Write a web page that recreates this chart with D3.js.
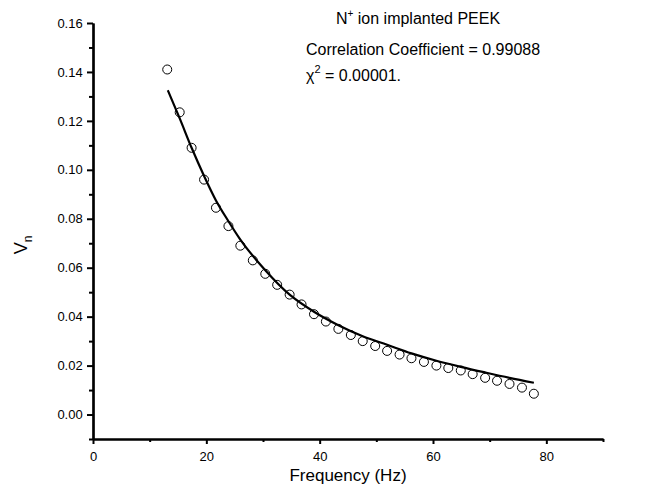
<!DOCTYPE html>
<html>
<head>
<meta charset="utf-8">
<script src="https://cdn.jsdelivr.net/npm/d3@7"></script>
<style>
  body { margin: 0; background: #fff; }
  text { font-family: "Liberation Sans", Arial, sans-serif; fill: #000; }
</style>
</head>
<body>
<div class="container"></div>
<script>
const w = 647
const h = 495

// measured points
const freq = [13.1,15.3,17.4,19.6,21.7,23.9,26.0,28.2,30.4,32.5,34.7,36.8,39.0,41.1,43.3,45.5,47.6,49.8,51.9,54.1,56.2,58.4,60.6,62.7,64.9,67.0,69.2,71.3,73.5,75.7,77.8]
const vn = [0.141,0.1235,0.109,0.096,0.0845,0.077,0.069,0.063,0.0575,0.053,0.049,0.045,0.041,0.038,0.035,0.0325,0.030,0.028,0.026,0.0245,0.023,0.0215,0.020,0.019,0.018,0.0165,0.015,0.0138,0.0125,0.011,0.0085]

// fitted curve
const fitFreq = [13.2,15.3,17.4,19.6,21.7,23.9,26.0,30.4,34.7,39.0,43.3,47.6,51.9,56.2,60.6,64.9,69.2,73.5,77.8]
const fitVn = [0.1325,0.121,0.109,0.0975,0.0875,0.079,0.0715,0.059,0.049,0.042,0.0365,0.032,0.0285,0.025,0.022,0.0195,0.0172,0.015,0.013]

const xTicks = [0,20,40,60,80]
const xMinor = [10,30,50,70,90]
const yTicks = [0,0.02,0.04,0.06,0.08,0.10,0.12,0.14,0.16]
const yMinor = [-0.01,0.01,0.03,0.05,0.07,0.09,0.11,0.13,0.15]

const svg = d3.select(".container")
              .append("svg")
              .attr("width", w)
              .attr("height", h)

const xScale = d3.scaleLinear().domain([0, 90]).range([93, 603])
const yScale = d3.scaleLinear().domain([-0.01, 0.16]).range([439, 23])

const xAxis = d3.axisBottom(xScale).tickValues(xTicks).tickFormat(d3.format("d")).tickSize(5).tickSizeOuter(0)
const xAxisMinor = d3.axisBottom(xScale).tickValues(xMinor).tickFormat("").tickSize(3).tickSizeOuter(0)
const yAxis = d3.axisLeft(yScale).tickValues(yTicks).tickFormat(d3.format(".2f")).tickSize(6).tickSizeOuter(0)
const yAxisMinor = d3.axisLeft(yScale).tickValues(yMinor).tickFormat("").tickSize(4).tickSizeOuter(0)

function styleAxis(g) {
  g.select(".domain").attr("stroke-width", 2.2)
  g.selectAll(".tick line").attr("stroke-width", 2)
  g.selectAll(".tick text").attr("font-size", 13).attr("font-family", "Liberation Sans, Arial, sans-serif")
}

svg.append("g").attr("transform", `translate(0, ${yScale(-0.01)})`).call(xAxisMinor).call(styleAxis)
svg.append("g").attr("id", "x-axis").attr("transform", `translate(0, ${yScale(-0.01)})`).call(xAxis).call(styleAxis)
  .selectAll(".tick text").attr("dy", "1.1em")
svg.append("g").attr("transform", `translate(${xScale(0)}, 0)`).call(yAxisMinor).call(styleAxis)
svg.append("g").attr("id", "y-axis").attr("transform", `translate(${xScale(0)}, 0)`).call(yAxis).call(styleAxis)
  .selectAll(".tick text").attr("dx", "-0.1em")

// fit line
const line = d3.line()
               .x((d, i) => xScale(fitFreq[i]))
               .y(d => yScale(d))
               .curve(d3.curveMonotoneX)

svg.append("path")
   .datum(fitVn)
   .attr("d", line)
   .attr("fill", "none")
   .attr("stroke", "#000")
   .attr("stroke-width", 2.2)

svg.selectAll("circle")
   .data(vn)
   .enter()
   .append("circle")
     .attr("cx", (d, i) => xScale(freq[i]))
     .attr("cy", d => yScale(d))
     .attr("r", 4.5)
     .attr("fill", "none")
     .attr("stroke", "#000")
     .attr("stroke-width", 1)

// labels
svg.append("text")
   .attr("x", 348).attr("y", 481)
   .attr("text-anchor", "middle")
   .attr("font-size", 17)
   .text("Frequency (Hz)")

const yl = svg.append("text")
   .attr("transform", "translate(27, 245) rotate(-90)")
   .attr("text-anchor", "middle")
   .attr("font-size", 18)
yl.append("tspan").text("V")
yl.append("tspan").attr("font-size", 12).attr("dy", 5).text("n")

const t1 = svg.append("text")
   .attr("x", 418).attr("y", 24)
   .attr("text-anchor", "middle")
   .attr("font-size", 16)
t1.append("tspan").text("N")
t1.append("tspan").attr("font-size", 10).attr("dy", -7).text("+")
t1.append("tspan").attr("dy", 7).text(" ion implanted PEEK")

svg.append("text")
   .attr("x", 306).attr("y", 55)
   .attr("font-size", 16)
   .text("Correlation Coefficient = 0.99088")

const t3 = svg.append("text")
   .attr("x", 306).attr("y", 81)
   .attr("font-size", 16)
t3.append("tspan").text("χ")
t3.append("tspan").attr("font-size", 11).attr("dy", -8).text("2")
t3.append("tspan").attr("dy", 8).text(" = 0.00001.")
</script>
</body>
</html>
